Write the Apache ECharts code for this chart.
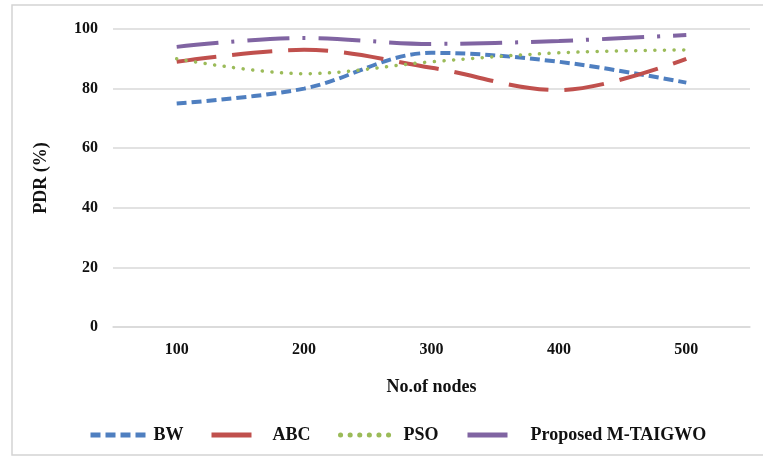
<!DOCTYPE html>
<html>
<head>
<meta charset="utf-8">
<script src="https://cdn.jsdelivr.net/npm/echarts@6/dist/echarts.min.js"></script>
<style>
  html, body { margin: 0; padding: 0; background: #fff; }
  #chart { width: 763px; height: 461px; }
</style>
</head>
<body>
<div id="chart"></div>
<script>
// x categories (number of nodes)
var nodes = ['100', '200', '300', '400', '500'];
// PDR (%) per method
var bw = [75, 80, 92, 89, 82];
var abc = [89, 93, 87, 79.5, 90];
var pso = [90, 85, 89, 92, 93];
var mtaigwo = [94, 97, 95, 96, 98];
var yTicks = [0, 20, 40, 60, 80, 100];

var font = '"Liberation Serif", "Times New Roman", serif';

var chart = echarts.init(document.getElementById('chart'));

// one legend per series so each entry sits where it does in the original
// (itemHeight kept tiny so the line legend's marker dot is invisible)
function legendFor(name, left, width, padLeft) {
  return {
    data: [name],
    left: left,
    top: 421,
    itemWidth: width,
    itemHeight: 2,
    selectedMode: false,
    itemStyle: { opacity: 0 },
    lineStyle: { width: 5 },
    textStyle: {
      fontFamily: font, fontWeight: 'bold', fontSize: 18, color: '#111',
      padding: [0, 0, 0, padLeft]
    }
  };
}

var option = {
  animation: false,
  backgroundColor: '#fff',
  graphic: [{
    type: 'rect',
    shape: { x: 12, y: 5, width: 760, height: 450 },
    style: { fill: 'none', stroke: '#d4d4d4', lineWidth: 1.5 },
    z: -1
  }],
  grid: { left: 113, right: 13, top: 29, bottom: 134 },
  legend: [
    legendFor('BW', 83, 55, 3),
    legendFor('ABC', 204, 40, 16),
    legendFor('PSO', 333, 55, 3),
    legendFor('Proposed M-TAIGWO', 460, 40, 18)
  ],
  xAxis: {
    type: 'category',
    data: nodes,
    boundaryGap: true,
    name: 'No.of nodes',
    nameLocation: 'middle',
    nameGap: 51,
    nameTextStyle: { fontFamily: font, fontWeight: 'bold', fontSize: 18, color: '#111' },
    axisLine: { lineStyle: { color: '#d9d9d9', width: 1.5 } },
    axisTick: { show: false },
    axisLabel: { margin: 15, fontFamily: font, fontWeight: 'bold', fontSize: 16, color: '#111' }
  },
  yAxis: {
    type: 'value',
    min: yTicks[0],
    max: yTicks[yTicks.length - 1],
    interval: 20,
    name: 'PDR (%)',
    nameLocation: 'middle',
    nameRotate: 90,
    nameGap: 63,
    nameTextStyle: { fontFamily: font, fontWeight: 'bold', fontSize: 18, color: '#111' },
    axisLine: { show: false },
    axisTick: { show: false },
    axisLabel: { margin: 15, fontFamily: font, fontWeight: 'bold', fontSize: 16, color: '#111' },
    splitLine: { lineStyle: { color: '#d9d9d9', width: 1.5 } }
  },
  series: [
    {
      name: 'BW', type: 'line', data: bw, symbol: 'none', smooth: 0.35,
      itemStyle: { color: '#4f7fc0' },
      lineStyle: { color: '#4f7fc0', width: 4, type: [10, 5] }
    },
    {
      name: 'ABC', type: 'line', data: abc, symbol: 'none', smooth: 0.35,
      itemStyle: { color: '#c0504d' },
      lineStyle: { color: '#c0504d', width: 4, type: [40, 16] }
    },
    {
      name: 'PSO', type: 'line', data: pso, symbol: 'none', smooth: 0.35,
      itemStyle: { color: '#9bbb59' },
      lineStyle: { color: '#9bbb59', width: 3.5, type: [0.1, 9.5], cap: 'round' }
    },
    {
      name: 'Proposed M-TAIGWO', type: 'line', data: mtaigwo, symbol: 'none', smooth: 0.35,
      itemStyle: { color: '#8064a2' },
      lineStyle: { color: '#8064a2', width: 4, type: [42, 13, 3, 13] }
    }
  ]
};

chart.setOption(option);
</script>
</body>
</html>
